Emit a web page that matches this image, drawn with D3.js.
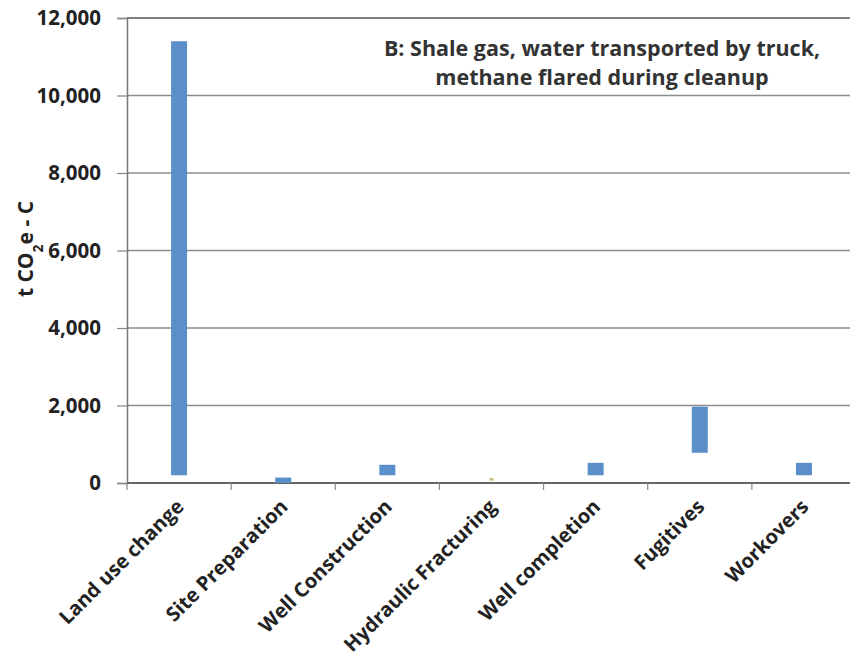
<!DOCTYPE html>
<html><head><meta charset="utf-8">
<script src="https://cdn.jsdelivr.net/npm/d3@7"></script>
<style>body{margin:0;background:#fff}svg{display:block}</style>
</head><body>
<svg id="c" width="850" height="664"></svg>
<script>
const categories = ["Land use change","Site Preparation","Well Construction","Hydraulic Fracturing","Well completion","Fugitives","Workovers"];
const lowValues  = [200, 0, 200, 60, 200, 780, 200];
const highValues = [11400, 140, 470, 130, 520, 1970, 520];
const yTicks = [0, 2000, 4000, 6000, 8000, 10000, 12000];
const titleLines = ["B: Shale gas, water transported by truck,", "methane flared during cleanup"];

(function () {
const svg = d3.select("#c");
const mLeft = 127, mRight = 856, mTop = 18, mBottom = 483;
const font = "'Open Sans', 'Noto Sans', sans-serif";

const x = d3.scaleBand().domain(categories).range([mLeft, mRight]).paddingInner(0).paddingOuter(0);
const y = d3.scaleLinear().domain([0, 12000]).range([mBottom, mTop]);

// gridlines
svg.append("g").selectAll("line").data(yTicks.filter(d => d > 0)).join("line")
  .attr("x1", mLeft).attr("x2", 850).attr("y1", d => y(d)).attr("y2", d => y(d))
  .attr("stroke", d => d === 12000 ? "#555" : "#8c8c8c").attr("stroke-width", 1.5);

// y axis
const yAxis = svg.append("g").attr("transform", `translate(${mLeft},0)`)
  .call(d3.axisLeft(y).tickValues(yTicks).tickSize(10).tickPadding(16).tickFormat(d3.format(",")));
yAxis.select(".domain").attr("stroke", "#777").attr("stroke-width", 1.5);
yAxis.selectAll(".tick line").attr("stroke", "#888").attr("stroke-width", 1.2);
yAxis.selectAll("text").attr("font-family", font).attr("font-weight", "bold").attr("font-size", 20.5).attr("fill", "#222");

// x axis
const xAxis = svg.append("g").attr("transform", `translate(0,${mBottom})`)
  .call(d3.axisBottom(x).tickSize(0).tickPadding(0));
xAxis.select(".domain").remove();
svg.append("line").attr("x1", mLeft).attr("x2", 850).attr("y1", mBottom).attr("y2", mBottom)
  .attr("stroke", "#666").attr("stroke-width", 2);
const bounds = categories.map(c => x(c)).concat([x(categories[categories.length-1]) + x.bandwidth()]);
svg.append("g").selectAll("line").data(bounds).join("line")
  .attr("x1", d => d).attr("x2", d => d).attr("y1", mBottom).attr("y2", mBottom + 7)
  .attr("stroke", "#888").attr("stroke-width", 1.2);
xAxis.selectAll(".tick text")
  .attr("font-family", font).attr("font-weight", "bold").attr("font-size", 20).attr("fill", "#222")
  .attr("text-anchor", "end")
  .attr("transform", "translate(1,20) rotate(-45)")
  .attr("dy", "0.35em");

// bars
const bw = 16;
const data = categories.map((c, i) => ({c, lo: lowValues[i], hi: highValues[i]}));
svg.append("g").selectAll("rect").data(data).join("rect")
  .attr("x", d => x(d.c) + x.bandwidth()/2 - (d.c === "Hydraulic Fracturing" ? 2 : bw/2))
  .attr("width", d => d.c === "Hydraulic Fracturing" ? 4 : bw)
  .attr("y", d => y(d.hi))
  .attr("height", d => y(d.lo) - y(d.hi))
  .attr("fill", d => d.c === "Hydraulic Fracturing" ? "#c8c27a" : "#5b8fca");

// y label
svg.append("text")
  .attr("transform", "translate(33,249) rotate(-90)")
  .attr("text-anchor", "middle")
  .attr("font-family", font).attr("font-weight", "bold").attr("font-size", 21).attr("fill", "#222")
  .html('t CO<tspan baseline-shift="sub" font-size="14">2</tspan>e - C');

// title
svg.append("g").selectAll("text").data(titleLines).join("text")
  .attr("x", 602).attr("y", (d, i) => 56 + i * 29)
  .attr("text-anchor", "middle")
  .attr("font-family", font).attr("font-weight", "bold").attr("font-size", 21.5).attr("fill", "#333")
  .text(d => d);
})();
</script>
</body></html>
